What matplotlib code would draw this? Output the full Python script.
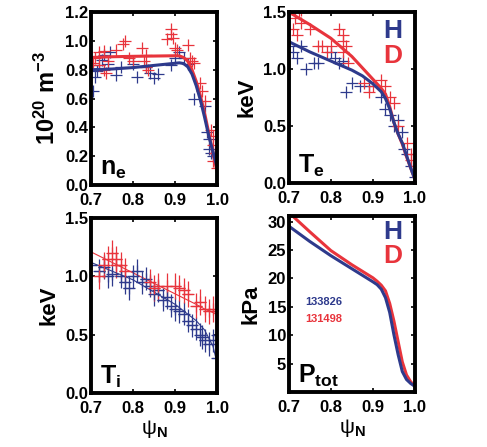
"""
H vs D pedestal profiles: ne, Te, Ti, Ptot against psi_N, 2x2 panels.
"""
import matplotlib
matplotlib.use("Agg")
import matplotlib.pyplot as plt

BLUE = "#2e3a8c"
RED = "#e8343c"

FONT = "Liberation Sans"
plt.rcParams["font.family"] = [FONT, "DejaVu Sans"]
plt.rcParams["font.weight"] = "bold"
plt.rcParams["axes.labelweight"] = "bold"
plt.rcParams["mathtext.fontset"] = "custom"
plt.rcParams["mathtext.rm"] = FONT
plt.rcParams["mathtext.it"] = FONT
plt.rcParams["mathtext.bf"] = FONT + ":bold"

# ---- n_e (1e20 m^-3) ----
ne_d_psi = [0.705, 0.71, 0.72, 0.72, 0.73, 0.73, 0.74, 0.735, 0.76, 0.775, 0.78, 0.79, 0.80,
            0.82, 0.825, 0.83, 0.83, 0.835, 0.88, 0.89, 0.89, 0.895, 0.90, 0.905, 0.93, 0.935,
            0.94, 0.945, 0.96, 0.965, 0.97, 0.985, 0.99, 0.99, 0.995, 0.99, 1.0]
ne_d_val = [0.85, 0.88, 0.92, 0.83, 0.80, 0.93, 0.86, 0.78, 0.94, 0.98, 1.00, 0.88, 0.86,
            0.95, 0.86, 0.90, 0.82, 0.80, 1.01, 1.05, 1.08, 1.02, 0.95, 0.94, 0.97, 0.88,
            0.86, 0.85, 0.71, 0.65, 0.58, 0.38, 0.34, 0.28, 0.22, 0.17, 0.12]
ne_h_psi = [0.705, 0.71, 0.715, 0.72, 0.725, 0.73, 0.74, 0.745, 0.76, 0.77, 0.80, 0.81, 0.84,
            0.85, 0.86, 0.83, 0.89, 0.90, 0.91, 0.92, 0.93, 0.945, 0.97, 0.975, 0.98, 0.98,
            0.985, 0.99, 1.0]
ne_h_val = [0.65, 0.75, 0.79, 0.83, 0.87, 0.90, 0.84, 0.92, 0.76, 0.82, 0.84, 0.75, 0.78,
            0.74, 0.77, 0.82, 0.83, 0.88, 0.92, 0.88, 0.84, 0.60, 0.55, 0.37, 0.32, 0.25,
            0.22, 0.20, 0.20]
ne_fit_psi = [0.70, 0.75, 0.80, 0.85, 0.90, 0.91, 0.92, 0.93, 0.94, 0.95, 0.96, 0.97, 0.98, 0.99, 1.0]
ne_fit_d = [0.885, 0.89, 0.893, 0.895, 0.897, 0.896, 0.885, 0.86, 0.80, 0.72, 0.62, 0.50, 0.36, 0.22, 0.09]
ne_fit_h = [0.80, 0.805, 0.815, 0.83, 0.845, 0.848, 0.843, 0.82, 0.77, 0.69, 0.59, 0.47, 0.34, 0.23, 0.12]

# ---- T_e (keV) ----
te_d_psi = [0.71, 0.715, 0.72, 0.72, 0.725, 0.73, 0.73, 0.75, 0.77, 0.78, 0.79, 0.80, 0.82,
            0.83, 0.83, 0.835, 0.83, 0.84, 0.88, 0.89, 0.90, 0.92, 0.93, 0.94, 0.95, 0.96,
            0.98, 0.99, 1.0, 0.99]
te_d_val = [1.35, 1.45, 1.55, 1.30, 1.50, 1.40, 1.52, 1.35, 1.20, 1.20, 1.15, 1.20, 1.35,
            1.30, 1.25, 1.20, 1.15, 1.05, 0.88, 0.80, 0.85, 0.90, 0.85, 0.75, 0.70, 0.50,
            0.35, 0.25, 0.15, 0.20]
te_h_psi = [0.70, 0.71, 0.72, 0.73, 0.74, 0.76, 0.77, 0.80, 0.81, 0.82, 0.83, 0.835, 0.85,
            0.87, 0.89, 0.92, 0.93, 0.94, 0.95, 0.96, 0.97, 0.975, 0.98, 0.99, 1.0]
te_h_val = [1.20, 1.15, 1.10, 1.20, 1.00, 1.05, 1.05, 1.15, 1.10, 1.05, 1.07, 0.80, 0.88,
            0.85, 0.85, 0.75, 0.65, 0.60, 0.50, 0.55, 0.45, 0.30, 0.25, 0.15, 0.05]
te_fit_psi = [0.70, 0.75, 0.80, 0.85, 0.875, 0.90, 0.92, 0.93, 0.94, 0.95, 0.96, 0.97, 0.98, 0.99, 1.0]
te_fit_d = [1.50, 1.39, 1.27, 1.11, 1.01, 0.91, 0.83, 0.78, 0.67, 0.53, 0.43, 0.34, 0.23, 0.13, 0.03]
te_fit_h = [1.24, 1.15, 1.07, 0.99, 0.94, 0.87, 0.80, 0.74, 0.65, 0.53, 0.43, 0.35, 0.24, 0.13, 0.03]

# ---- T_i (keV), points carry error bars ----
ti_d_psi = [0.72, 0.73, 0.74, 0.75, 0.76, 0.76, 0.77, 0.78, 0.84, 0.85, 0.86, 0.88, 0.90,
            0.91, 0.92, 0.93, 0.95, 0.96, 0.97, 0.98, 0.99, 1.0]
ti_d_val = [1.00, 1.10, 1.15, 1.20, 1.15, 1.10, 1.10, 1.05, 0.95, 0.90, 0.92, 0.92, 0.92,
            0.90, 0.88, 0.85, 0.75, 0.78, 0.72, 0.70, 0.72, 0.70]
ti_h_psi = [0.70, 0.72, 0.73, 0.74, 0.75, 0.77, 0.78, 0.79, 0.80, 0.81, 0.82, 0.83, 0.84,
            0.85, 0.86, 0.87, 0.88, 0.89, 0.90, 0.91, 0.92, 0.93, 0.94, 0.95, 0.96, 0.965,
            0.97, 0.98, 0.99, 1.0, 1.0]
ti_h_val = [1.10, 1.05, 1.08, 1.00, 1.02, 1.00, 0.95, 0.90, 1.00, 1.05, 0.95, 0.98, 0.92,
            0.85, 0.88, 0.80, 0.82, 0.75, 0.72, 0.70, 0.68, 0.62, 0.58, 0.55, 0.50, 0.48,
            0.45, 0.42, 0.45, 0.30, 0.50]
ti_fit_psi = [0.70, 0.80, 0.90, 0.95, 0.97, 0.99, 1.0]
ti_fit_d = [1.21, 1.03, 0.85, 0.76, 0.72, 0.69, 0.67]
ti_fit_h = [1.12, 0.97, 0.76, 0.62, 0.54, 0.40, 0.25]

# ---- P_tot (kPa) ----
p_psi = [0.70, 0.75, 0.80, 0.85, 0.90, 0.91, 0.92, 0.93, 0.94, 0.95, 0.96, 0.97, 0.98, 0.99, 1.0]
p_d = [31.6, 28.2, 24.9, 22.4, 20.1, 19.5, 18.8, 17.8, 15.6, 12.5, 8.9, 5.3, 3.0, 1.8, 1.0]
p_h = [29.2, 26.5, 24.0, 21.7, 19.4, 18.9, 18.1, 16.6, 14.0, 10.1, 6.6, 3.6, 2.2, 1.5, 1.0]

fig = plt.figure(figsize=(4.87, 4.47), dpi=100)
ax_ne = fig.add_axes([0.187, 0.586, 0.259, 0.387])
ax_te = fig.add_axes([0.593, 0.591, 0.259, 0.382])
ax_ti = fig.add_axes([0.187, 0.121, 0.259, 0.391])
ax_p = fig.add_axes([0.593, 0.123, 0.259, 0.394])

for ax in (ax_ne, ax_te, ax_ti, ax_p):
    ax.set_xlim(0.7, 1.0)
    ax.set_xticks([0.7, 0.8, 0.9, 1.0])
    ax.set_xticklabels(["0.7", "0.8", "0.9", "1.0"])
    ax.tick_params(direction="in", top=True, right=True, length=3, width=1.2,
                   labelsize=12, pad=2)
    ax.tick_params(axis="x", pad=6)
    for sp in ax.spines.values():
        sp.set_linewidth(2.8)

mk = dict(marker="+", ls="none", ms=8, mew=0.9)

# n_e
ax_ne.plot(ne_h_psi, ne_h_val, color=BLUE, **mk)
ax_ne.plot(ne_d_psi, ne_d_val, color=RED, **mk)
ax_ne.plot(ne_fit_psi, ne_fit_d, color=RED, lw=2.2)
ax_ne.plot(ne_fit_psi, ne_fit_h, color=BLUE, lw=2.2)
ax_ne.set_ylim(0, 1.2)
ax_ne.set_yticks([0.0, 0.2, 0.4, 0.6, 0.8, 1.0, 1.2])
ax_ne.set_yticklabels(["0.0", "0.2", "0.4", "0.6", "0.8", "1.0", "1.2"])
ax_ne.set_ylabel(r"10$^\mathbf{20}$ m$^\mathbf{-3}$", fontsize=17, labelpad=4)
ax_ne.text(0.07, 0.06, r"n$_\mathbf{e}$", transform=ax_ne.transAxes, fontsize=18)

# T_e
ax_te.plot(te_h_psi, te_h_val, color=BLUE, **mk)
ax_te.plot(te_d_psi, te_d_val, color=RED, **mk)
ax_te.plot(te_fit_psi, te_fit_d, color=RED, lw=2.2)
ax_te.plot(te_fit_psi, te_fit_h, color=BLUE, lw=2.2)
ax_te.set_ylim(0, 1.5)
ax_te.set_yticks([0.0, 0.5, 1.0, 1.5])
ax_te.set_yticklabels(["0.0", "0.5", "1.0", "1.5"])
ax_te.set_ylabel("keV", fontsize=16, labelpad=4)
ax_te.text(0.07, 0.06, r"T$_\mathbf{e}$", transform=ax_te.transAxes, fontsize=18)
ax_te.text(0.90, 0.89, "H", transform=ax_te.transAxes, fontsize=19, color=BLUE,
           ha="right", va="center")
ax_te.text(0.90, 0.74, "D", transform=ax_te.transAxes, fontsize=19, color=RED,
           ha="right", va="center")

# T_i
eb = dict(fmt="+", ms=8, mew=0.9, elinewidth=0.9, capsize=0)
ax_ti.errorbar(ti_h_psi, ti_h_val, xerr=0.013, yerr=0.1, color=BLUE, **eb)
ax_ti.errorbar(ti_d_psi, ti_d_val, xerr=0.013, yerr=0.11, color=RED, **eb)
ax_ti.plot(ti_fit_psi, ti_fit_d, color=RED, lw=0.8)
ax_ti.plot(ti_fit_psi, ti_fit_h, color=BLUE, lw=0.8)
ax_ti.set_ylim(0, 1.5)
ax_ti.set_yticks([0.0, 0.5, 1.0, 1.5])
ax_ti.set_yticklabels(["0.0", "0.5", "1.0", "1.5"])
ax_ti.set_ylabel("keV", fontsize=16, labelpad=4)
ax_ti.text(0.07, 0.05, r"T$_\mathbf{i}$", transform=ax_ti.transAxes, fontsize=18)
ax_ti.set_xlabel(r"ψ$_\mathrm{N}$", fontsize=15, fontweight="normal", labelpad=1)

# P_tot
ax_p.plot(p_psi, p_d, color=RED, lw=2.2)
ax_p.plot(p_psi, p_h, color=BLUE, lw=2.2)
ax_p.set_ylim(0, 31)
ax_p.set_yticks([5, 10, 15, 20, 25, 30])
ax_p.set_ylabel("kPa", fontsize=16, labelpad=4)
ax_p.text(0.07, 0.05, r"P$_\mathbf{tot}$", transform=ax_p.transAxes, fontsize=18)
ax_p.text(0.90, 0.91, "H", transform=ax_p.transAxes, fontsize=19, color=BLUE,
          ha="right", va="center")
ax_p.text(0.90, 0.77, "D", transform=ax_p.transAxes, fontsize=19, color=RED,
          ha="right", va="center")
ax_p.text(0.13, 0.51, "133826", transform=ax_p.transAxes, fontsize=8, color=BLUE,
          va="center")
ax_p.text(0.13, 0.415, "131498", transform=ax_p.transAxes, fontsize=8, color=RED,
          va="center")
ax_p.set_xlabel(r"ψ$_\mathrm{N}$", fontsize=15, fontweight="normal", labelpad=1)

fig.savefig("out.png", dpi=100)
